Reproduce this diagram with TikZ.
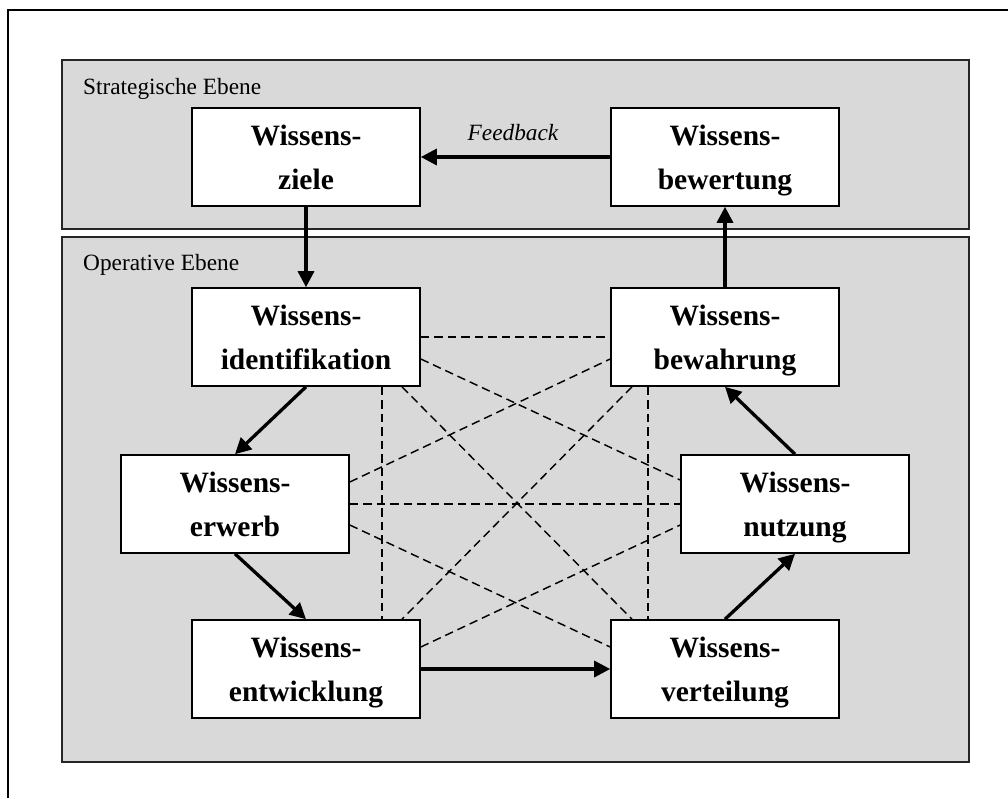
\documentclass[tikz,border=0pt]{standalone}
\usepackage{fontspec}
\setmainfont{Liberation Serif}
\usetikzlibrary{arrows.meta}
\definecolor{panelgray}{RGB}{217,217,217}
% fixed line height/depth so every two-line box sits the same way
\newcommand\boxstrut{\rule[-10pt]{0pt}{41pt}}
\begin{document}
\begin{tikzpicture}[x=1pt,y=-1pt,
  panel/.style={draw=black!85, line width=1.6pt, fill=panelgray},
  stage/.style={draw=black, line width=1.6pt, fill=white, minimum width=228pt,
    minimum height=98pt, inner sep=0pt, align=center,
    font=\fontsize{29.5}{44}\selectfont\bfseries},
  flow/.style={line width=3.3pt, -{Triangle[length=16pt,width=16pt]}},
  link/.style={line width=1.45pt, dash pattern=on 8.5pt off 5pt},
  levellabel/.style={anchor=base west, inner sep=0pt,
    font=\fontsize{23.3}{28}\selectfont}]
\useasboundingbox (0,0) rectangle (1008,798);

% outer frame
\draw[line width=1.3pt] (8,798) -- (8,10) -- (1008,10);

% the two levels
\draw[panel] (62,60) rectangle (969,229);
\draw[panel] (62,237) rectangle (969,762);
\node[levellabel] (strat) at (83,94) {Strategische Ebene};
\node[levellabel] (oper) at (83,270) {Operative Ebene};

% building blocks
\node[stage] (ziele)  at (306,157) {\boxstrut Wissens-\\ziele\boxstrut};
\node[stage] (bewert) at (725,157) {\boxstrut Wissens-\\bewertung\boxstrut};
\node[stage] (ident)  at (306,337) {\boxstrut Wissens-\\identifikation\boxstrut};
\node[stage] (bewahr) at (725,337) {\boxstrut Wissens-\\bewahrung\boxstrut};
\node[stage] (erwerb) at (235,504) {\boxstrut Wissens-\\erwerb\boxstrut};
\node[stage] (nutz)   at (795,504) {\boxstrut Wissens-\\nutzung\boxstrut};
\node[stage] (entw)   at (306,669) {\boxstrut Wissens-\\entwicklung\boxstrut};
\node[stage] (vert)   at (725,669) {\boxstrut Wissens-\\verteilung\boxstrut};

% cross links between the operative blocks
\draw[link] (ident.east) -- (bewahr.west);
\draw[link] ([yshift=-22pt]ident.east) -- ([yshift=24pt]nutz.west);
\draw[link] ([yshift=22pt]erwerb.east) -- ([yshift=-22pt]bewahr.west);
\draw[link] (erwerb.east) -- (nutz.west);
\draw[link] ([yshift=-21pt]erwerb.east) -- ([yshift=22pt]vert.west);
\draw[link] ([yshift=22pt]entw.east) -- ([yshift=-21pt]nutz.west);
\draw[link] ([xshift=76pt]ident.south) -- ([xshift=76pt]entw.north);
\draw[link] ([xshift=-77pt]bewahr.south) -- ([xshift=-77pt]vert.north);
\draw[link] ([xshift=96pt]ident.south) -- ([xshift=-93pt]vert.north);
\draw[link] ([xshift=-93pt]bewahr.south) -- ([xshift=96pt]entw.north);

% process cycle
\draw[flow] (ziele.south) -- (ident.north);
\draw[flow] (ident.south) -- (erwerb.north);
\draw[flow] (erwerb.south) -- (entw.north);
\draw[flow] (entw.east) -- (vert.west);
\draw[flow] (vert.north) -- (nutz.south);
\draw[flow] (nutz.north) -- (bewahr.south);
\draw[flow] (bewahr.north) -- (bewert.south);
\draw[flow] (bewert.west) -- (ziele.east);
\node[anchor=base, inner sep=0pt, font=\fontsize{23.3}{28}\selectfont\itshape]
  (fb) at (513,140) {Feedback};
\end{tikzpicture}
\end{document}
